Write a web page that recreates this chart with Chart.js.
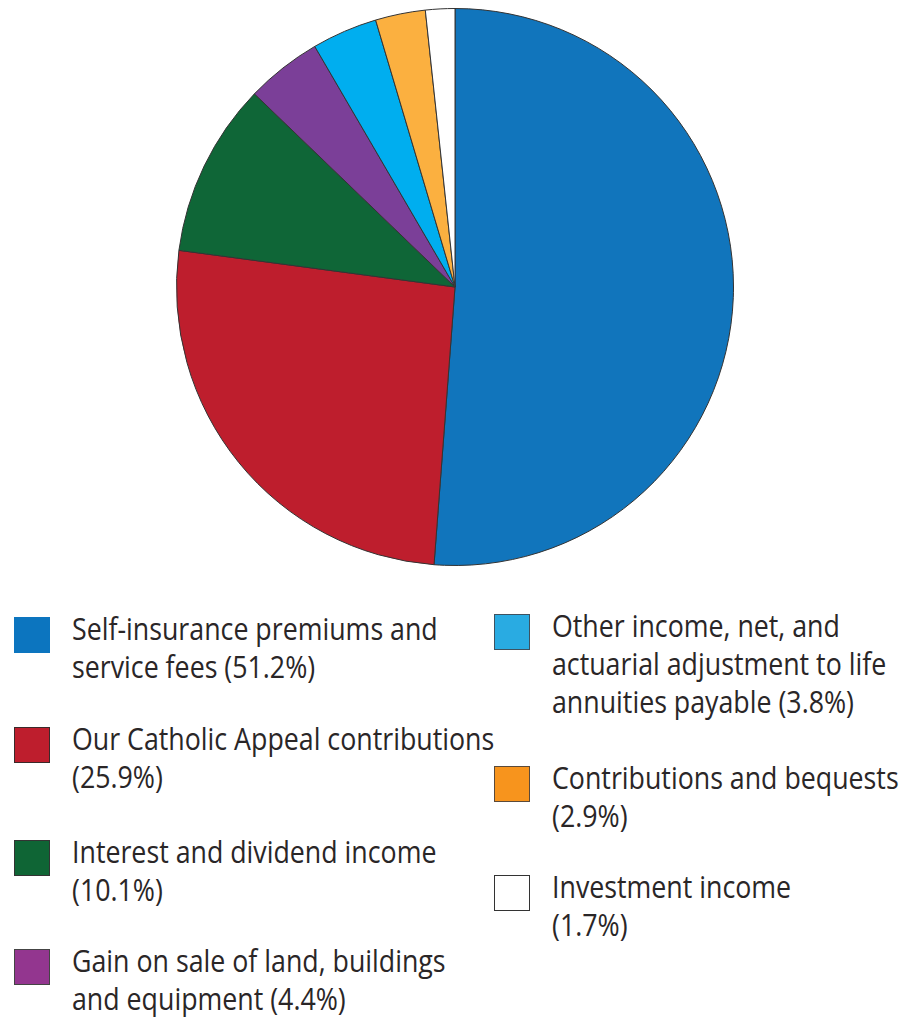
<!DOCTYPE html>
<html lang="en">
  <head>
    <meta charset="UTF-8" />
    <title>Revenue Sources</title>
    <script src="https://cdn.jsdelivr.net/npm/chart.js"></script>
    <style>
      body {
        margin: 0;
        background: #ffffff;
        width: 915px;
        height: 1018px;
        position: relative;
        overflow: hidden;
        font-family: 'Open Sans', sans-serif;
        color: #2a2627;
      }
      #pieBox {
        position: absolute;
        left: 176px;
        top: 8px;
        width: 558px;
        height: 558px;
      }
      .item {
        position: absolute;
        font-size: 31px;
        line-height: 38px;
        white-space: nowrap;
        transform: scaleX(0.863);
        transform-origin: left top;
      }
      .swatch {
        position: absolute;
        width: 36px;
        height: 36px;
        box-sizing: border-box;
      }
    </style>
  </head>
  <body>
    <div id="pieBox"><canvas id="pieChart"></canvas></div>
    <div id="legend"></div>

    <script>
      // slices, clockwise from 12 o'clock
      const labels = [
        ['Self-insurance premiums and', 'service fees'],
        ['Our Catholic Appeal contributions', ''],
        ['Interest and dividend income', ''],
        ['Gain on sale of land, buildings', 'and equipment'],
        ['Other income, net, and', 'actuarial adjustment to life', 'annuities payable'],
        ['Contributions and bequests', ''],
        ['Investment income', '']
      ];
      const values = [51.2, 25.9, 10.1, 4.4, 3.8, 2.9, 1.7];
      const sliceColors = ['#1175bc', '#be1e2d', '#0f6637', '#7b3f98', '#00aeef', '#fbb040', '#ffffff'];
      const swatchColors = ['#0c75bf', '#be1e2d', '#0f6535', '#93368f', '#29abe2', '#f7941d', '#ffffff'];
      const swatchBorders = ['#0c75bf', '#3a2a2a', '#333333', '#444444', '#3e5260', '#5a4a3a', '#333333'];

      // legend placement: [left, top of swatch]
      const legendSpots = [
        [14, 617], [14, 727], [14, 840], [14, 949],
        [494, 614], [494, 766], [494, 875]
      ];

      const ctx = document.getElementById('pieChart').getContext('2d');
      new Chart(ctx, {
        type: 'pie',
        data: {
          labels: labels.map(l => l.join(' ').trim()),
          datasets: [{
            data: values,
            backgroundColor: sliceColors,
            borderColor: '#333333',
            borderWidth: 1
          }]
        },
        options: {
          responsive: true,
          maintainAspectRatio: false,
          animation: false,
          layout: { padding: 0 },
          plugins: {
            legend: { display: false },
            tooltip: { enabled: false }
          }
        }
      });

      const legend = document.getElementById('legend');
      labels.forEach((lines, i) => {
        const [x, y] = legendSpots[i];
        const sw = document.createElement('div');
        sw.className = 'swatch';
        sw.style.left = x + 'px';
        sw.style.top = y + 'px';
        sw.style.background = swatchColors[i];
        sw.style.border = '1px solid ' + swatchBorders[i];
        legend.appendChild(sw);

        const txt = lines.slice();
        const pct = '(' + values[i] + '%)';
        if (txt[txt.length - 1] === '') txt[txt.length - 1] = pct;
        else txt[txt.length - 1] += ' ' + pct;

        const item = document.createElement('div');
        item.className = 'item';
        item.style.left = (x + 58) + 'px';
        item.style.top = (y - 8) + 'px';
        item.innerHTML = txt.join('<br>');
        legend.appendChild(item);
      });
    </script>
  </body>
</html>
